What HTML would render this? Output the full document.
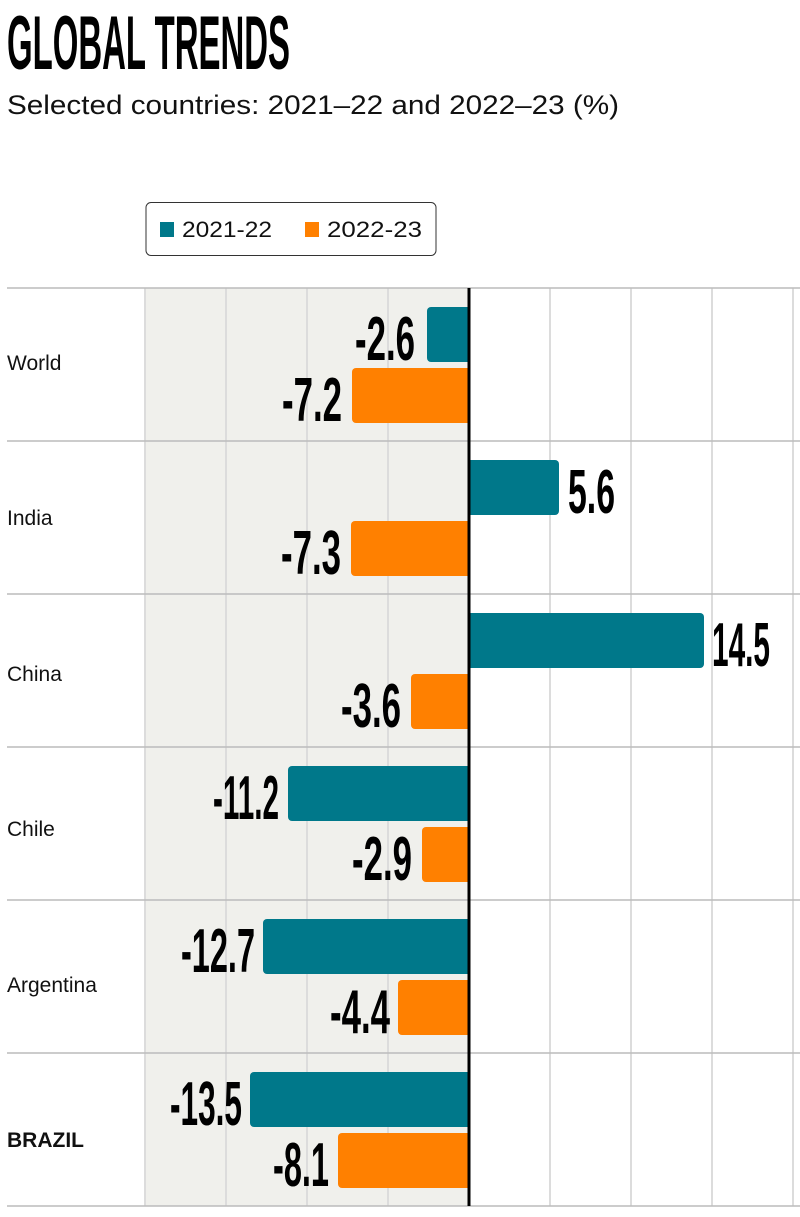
<!DOCTYPE html>
<html><head><meta charset="utf-8"><style>
html,body{margin:0;padding:0;background:#fff;}
svg{display:block;}
.n{font-family:"Liberation Sans",sans-serif;font-weight:bold;font-size:62px;fill:#000;}
.c{font-family:"Liberation Sans",sans-serif;font-size:21px;fill:#111;}
</style></head><body>
<svg width="800" height="1217" viewBox="0 0 800 1217" xmlns="http://www.w3.org/2000/svg">
<defs>
<clipPath id="neg"><rect x="0" y="0" width="469" height="1217"/></clipPath>
<clipPath id="pos"><rect x="469" y="0" width="331" height="1217"/></clipPath>
</defs>
<text x="7" y="69" font-family="Liberation Sans, sans-serif" font-weight="bold" font-size="76" textLength="283" lengthAdjust="spacingAndGlyphs">GLOBAL TRENDS</text>
<text x="7" y="114" font-family="Liberation Sans, sans-serif" font-size="27" textLength="612" lengthAdjust="spacingAndGlyphs" fill="#111">Selected countries: 2021–22 and 2022–23 (%)</text>
<rect x="146" y="202.5" width="290" height="53" rx="5" fill="#fff" stroke="#333" stroke-width="1"/>
<rect x="160" y="222" width="14" height="15" fill="#00788a"/>
<text x="182" y="237" font-family="Liberation Sans, sans-serif" font-size="22" textLength="90" lengthAdjust="spacingAndGlyphs" fill="#111">2021-22</text>
<rect x="305" y="222" width="14" height="15" fill="#ff8000"/>
<text x="327" y="237" font-family="Liberation Sans, sans-serif" font-size="22" textLength="95" lengthAdjust="spacingAndGlyphs" fill="#111">2022-23</text>
<rect x="145" y="288" width="324" height="918" fill="#f0f0ec"/>
<g stroke="#dcdcdc" stroke-width="2">
<line x1="145" y1="288" x2="145" y2="1206"/><line x1="226" y1="288" x2="226" y2="1206"/><line x1="307" y1="288" x2="307" y2="1206"/><line x1="388" y1="288" x2="388" y2="1206"/>
<line x1="550" y1="288" x2="550" y2="1206"/><line x1="631" y1="288" x2="631" y2="1206"/><line x1="712" y1="288" x2="712" y2="1206"/><line x1="793" y1="288" x2="793" y2="1206"/>
</g>
<g stroke="#bbb" stroke-width="1.5">
<line x1="7" y1="288" x2="800" y2="288"/><line x1="7" y1="441" x2="800" y2="441"/><line x1="7" y1="594" x2="800" y2="594"/><line x1="7" y1="747" x2="800" y2="747"/><line x1="7" y1="900" x2="800" y2="900"/><line x1="7" y1="1053" x2="800" y2="1053"/><line x1="7" y1="1206" x2="800" y2="1206"/>
</g>
<g clip-path="url(#neg)">
<rect x="427" y="307" width="46" height="55" rx="4" fill="#00788a"/>
<rect x="352" y="368" width="121" height="55" rx="4" fill="#ff8000"/>
<rect x="351" y="521" width="122" height="55" rx="4" fill="#ff8000"/>
<rect x="411" y="674" width="62" height="55" rx="4" fill="#ff8000"/>
<rect x="288" y="766" width="185" height="55" rx="4" fill="#00788a"/>
<rect x="422" y="827" width="51" height="55" rx="4" fill="#ff8000"/>
<rect x="263" y="919" width="210" height="55" rx="4" fill="#00788a"/>
<rect x="398" y="980" width="75" height="55" rx="4" fill="#ff8000"/>
<rect x="250" y="1072" width="223" height="55" rx="4" fill="#00788a"/>
<rect x="338" y="1133" width="135" height="55" rx="4" fill="#ff8000"/>
</g>
<g clip-path="url(#pos)">
<rect x="465" y="460" width="94" height="55" rx="4" fill="#00788a"/>
<rect x="465" y="613" width="239" height="55" rx="4" fill="#00788a"/>
</g>
<text class="n" x="415" y="360" text-anchor="end" textLength="60" lengthAdjust="spacingAndGlyphs">-2.6</text>
<text class="n" x="342" y="421" text-anchor="end" textLength="60" lengthAdjust="spacingAndGlyphs">-7.2</text>
<text class="n" x="568" y="513" textLength="47" lengthAdjust="spacingAndGlyphs">5.6</text>
<text class="n" x="341" y="574" text-anchor="end" textLength="60" lengthAdjust="spacingAndGlyphs">-7.3</text>
<text class="n" x="712" y="666" textLength="58" lengthAdjust="spacingAndGlyphs">14.5</text>
<text class="n" x="401" y="727" text-anchor="end" textLength="60" lengthAdjust="spacingAndGlyphs">-3.6</text>
<text class="n" x="279" y="819" text-anchor="end" textLength="66" lengthAdjust="spacingAndGlyphs">-11.2</text>
<text class="n" x="412" y="880" text-anchor="end" textLength="60" lengthAdjust="spacingAndGlyphs">-2.9</text>
<text class="n" x="255" y="972" text-anchor="end" textLength="74" lengthAdjust="spacingAndGlyphs">-12.7</text>
<text class="n" x="390" y="1033" text-anchor="end" textLength="60" lengthAdjust="spacingAndGlyphs">-4.4</text>
<text class="n" x="242" y="1125" text-anchor="end" textLength="72" lengthAdjust="spacingAndGlyphs">-13.5</text>
<text class="n" x="329" y="1186" text-anchor="end" textLength="56" lengthAdjust="spacingAndGlyphs">-8.1</text>
<line x1="469" y1="288" x2="469" y2="1206" stroke="#000" stroke-width="3"/>
<text class="c" x="7" y="370">World</text>
<text class="c" x="7" y="525">India</text>
<text class="c" x="7" y="681">China</text>
<text class="c" x="7" y="836">Chile</text>
<text class="c" x="7" y="992">Argentina</text>
<text class="c" x="7" y="1147" font-weight="bold">BRAZIL</text>
</svg>
</body></html>
